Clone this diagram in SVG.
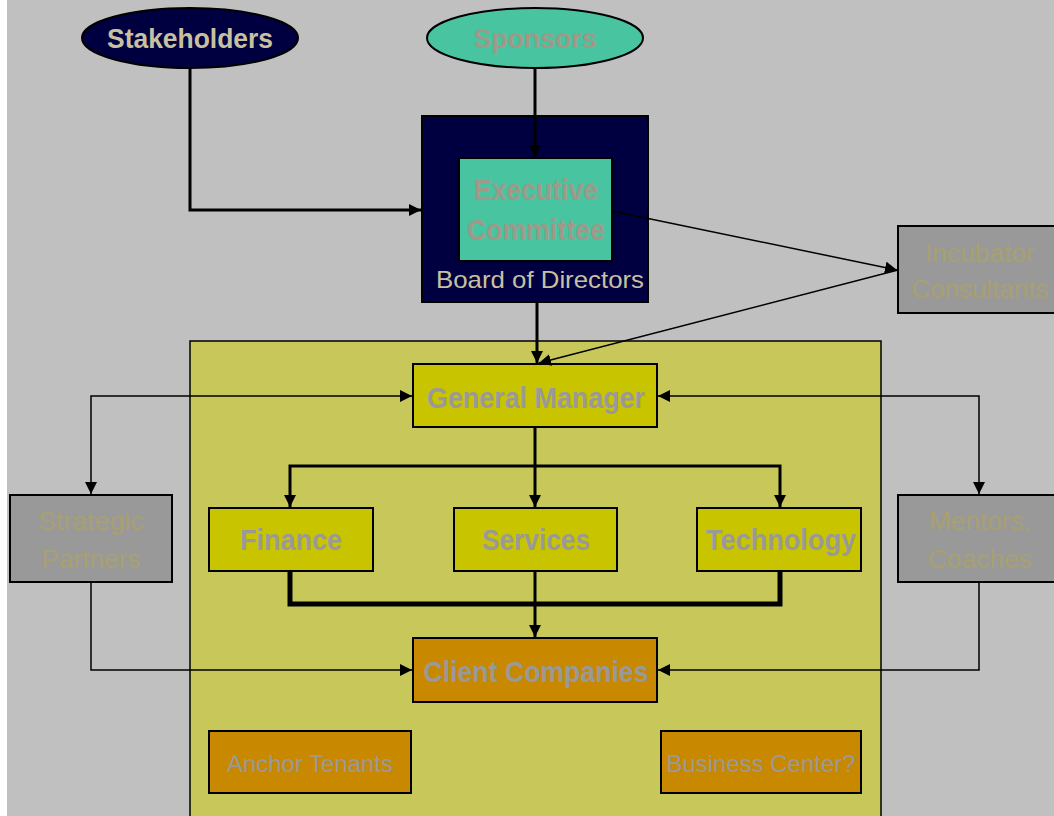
<svg xmlns="http://www.w3.org/2000/svg" width="1054" height="816" viewBox="0 0 1054 816">
<defs>
<style>
.t{font-family:"Liberation Sans",Arial,sans-serif;text-anchor:middle}
.b{font-weight:bold}
.box{stroke:#000;stroke-width:2}
.thick{fill:none;stroke:#000;stroke-width:3}
.thin{fill:none;stroke:#000;stroke-width:1.5}
.gry{fill:#999999}
</style>
<marker id="ah" viewBox="0 0 10 10" refX="10" refY="5" markerWidth="4" markerHeight="4" orient="auto" markerUnits="strokeWidth">
<path d="M0,0 L10,5 L0,10 z" fill="#000"/>
</marker>
<marker id="ahs" viewBox="0 0 10 10" refX="10" refY="5" markerWidth="8" markerHeight="8" orient="auto" markerUnits="strokeWidth">
<path d="M0,0 L10,5 L0,10 z" fill="#000"/>
</marker>
<marker id="ahs2" viewBox="0 0 10 10" refX="0" refY="5" markerWidth="8" markerHeight="8" orient="auto" markerUnits="strokeWidth">
<path d="M10,0 L0,5 L10,10 z" fill="#000"/>
</marker>
</defs>
<rect x="0" y="0" width="1054" height="816" fill="#ffffff"/>
<rect x="7" y="0" width="1047" height="816" fill="#c0c0c0"/>

<g id="panel">
<rect x="190" y="341" width="691" height="480" fill="#c8c85a" stroke="#000" stroke-width="1.5"/>
</g>

<g id="stakeholders">
<ellipse cx="190" cy="38" rx="108" ry="30" fill="#000040" stroke="#000" stroke-width="2"/>
<text class="t b" x="190" y="48" font-size="28" fill="#c8c0a0" textLength="166" lengthAdjust="spacingAndGlyphs">Stakeholders</text>
</g>
<g id="sponsors">
<ellipse cx="535" cy="38" rx="108" ry="30" fill="#48c4a0" stroke="#000" stroke-width="2"/>
<text class="t b" x="535" y="48" font-size="28" fill="#a09888" textLength="123" lengthAdjust="spacingAndGlyphs">Sponsors</text>
</g>
<g id="board">
<rect class="box" x="422" y="116" width="226" height="186" fill="#000040"/>
<text class="t" x="540" y="288" font-size="24" fill="#c8c0a0" textLength="208" lengthAdjust="spacingAndGlyphs">Board of Directors</text>
</g>
<g id="executive">
<rect class="box" x="459" y="158" width="153" height="103" fill="#48c4a0"/>
<text class="t b" x="536" y="200" font-size="30" fill="#a09888" textLength="124" lengthAdjust="spacingAndGlyphs">Executive</text>
<text class="t b" x="536" y="240" font-size="30" fill="#a09888" textLength="138" lengthAdjust="spacingAndGlyphs">Committee</text>
</g>
<g id="incubator">
<rect class="box" x="898" y="226" width="170" height="87" fill="#999999"/>
<text class="t" x="980" y="262" font-size="26" fill="#a8a070" textLength="110" lengthAdjust="spacingAndGlyphs">Incubator</text>
<text class="t" x="980" y="298" font-size="26" fill="#a8a070" textLength="137" lengthAdjust="spacingAndGlyphs">Consultants</text>
</g>
<g id="general-manager">
<rect class="box" x="413" y="364" width="244" height="63" fill="#c8c400"/>
<text class="t b gry" x="536" y="408" font-size="30" textLength="218" lengthAdjust="spacingAndGlyphs">General Manager</text>
</g>
<g id="finance">
<rect class="box" x="209" y="508" width="164" height="63" fill="#c8c400"/>
<text class="t b gry" x="291" y="550" font-size="30" textLength="102" lengthAdjust="spacingAndGlyphs">Finance</text>
</g>
<g id="services">
<rect class="box" x="454" y="508" width="163" height="63" fill="#c8c400"/>
<text class="t b gry" x="536" y="550" font-size="30" textLength="108" lengthAdjust="spacingAndGlyphs">Services</text>
</g>
<g id="technology">
<rect class="box" x="697" y="508" width="164" height="63" fill="#c8c400"/>
<text class="t b gry" x="781" y="550" font-size="30" textLength="150" lengthAdjust="spacingAndGlyphs">Technology</text>
</g>
<g id="client-companies">
<rect class="box" x="413" y="638" width="244" height="64" fill="#c88800"/>
<text class="t b gry" x="536" y="682" font-size="30" textLength="225" lengthAdjust="spacingAndGlyphs">Client Companies</text>
</g>
<g id="anchor-tenants">
<rect class="box" x="209" y="731" width="202" height="62" fill="#c88800"/>
<text class="t gry" x="310" y="772" font-size="24" textLength="166" lengthAdjust="spacingAndGlyphs">Anchor Tenants</text>
</g>
<g id="business-center">
<rect class="box" x="661" y="731" width="200" height="62" fill="#c88800"/>
<text class="t gry" x="761" y="772" font-size="24" textLength="189" lengthAdjust="spacingAndGlyphs">Business Center?</text>
</g>
<g id="strategic-partners">
<rect class="box" x="10" y="495" width="162" height="87" fill="#999999"/>
<text class="t" x="91" y="530" font-size="26" fill="#a8a070" textLength="106" lengthAdjust="spacingAndGlyphs">Strategic</text>
<text class="t" x="91" y="568" font-size="26" fill="#a8a070" textLength="99" lengthAdjust="spacingAndGlyphs">Partners</text>
</g>
<g id="mentors-coaches">
<rect class="box" x="898" y="495" width="170" height="87" fill="#999999"/>
<text class="t" x="980" y="530" font-size="26" fill="#a8a070" textLength="102" lengthAdjust="spacingAndGlyphs">Mentors,</text>
<text class="t" x="980" y="568" font-size="26" fill="#a8a070" textLength="104" lengthAdjust="spacingAndGlyphs">Coaches</text>
</g>

<g id="connectors">
<path class="thick" d="M190,68 V210 H421" marker-end="url(#ah)"/>
<path class="thick" d="M535,68 V157" marker-end="url(#ah)"/>
<path class="thick" d="M537,302 V363" marker-end="url(#ah)"/>
<path class="thin" d="M612,211 L897,270" marker-end="url(#ahs)"/>
<path class="thin" d="M898,270 L539,363" marker-end="url(#ahs)"/>
<path class="thick" d="M535,427 V507" marker-end="url(#ah)"/>
<path class="thick" d="M535,466 H290 V507" marker-end="url(#ah)"/>
<path class="thick" d="M535,466 H780 V507" marker-end="url(#ah)"/>
<path fill="none" stroke="#000" stroke-width="5" d="M290,572 V604 H780 V572"/>
<path class="thick" d="M535,572 V637" marker-end="url(#ah)"/>
<path class="thin" d="M91,494 V396 H412" marker-end="url(#ahs)" marker-start="url(#ahs2)"/>
<path class="thin" d="M979,494 V396 H658" marker-end="url(#ahs)" marker-start="url(#ahs2)"/>
<path class="thin" d="M91,583 V670 H412" marker-end="url(#ahs)"/>
<path class="thin" d="M979,583 V670 H658" marker-end="url(#ahs)"/>
</g>
</svg>
